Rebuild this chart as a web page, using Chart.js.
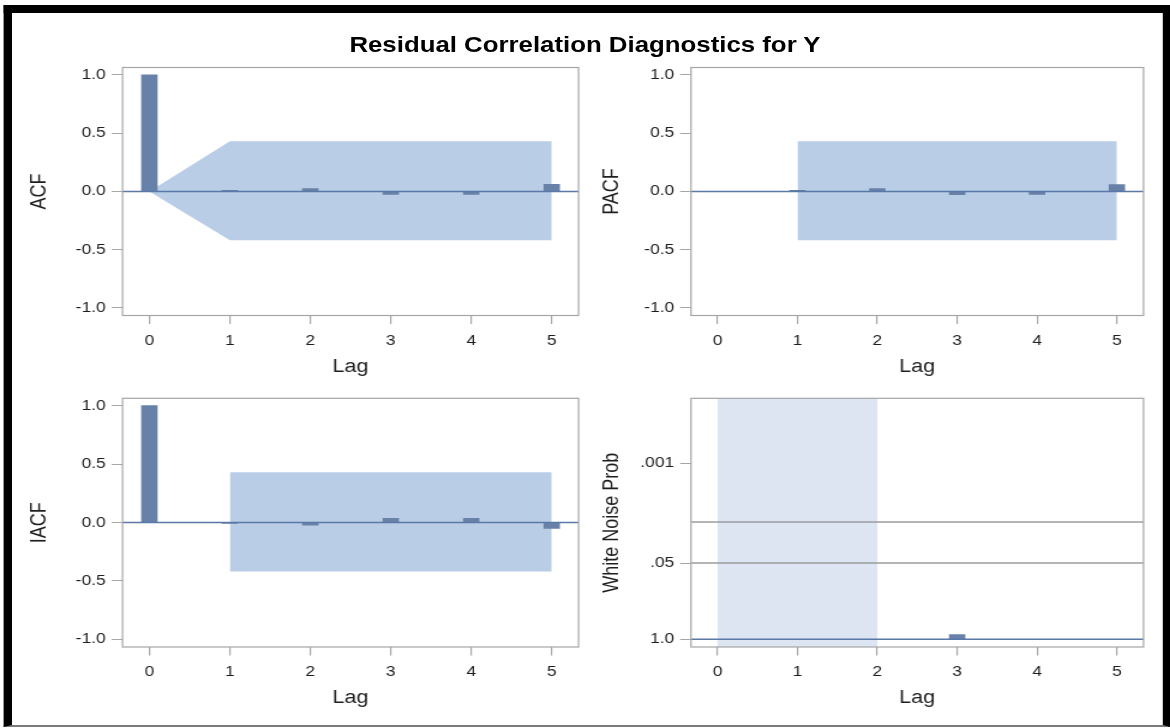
<!DOCTYPE html>
<html>
<head>
<meta charset="utf-8">
<script src="https://cdn.jsdelivr.net/npm/chart.js@4.4.1/dist/chart.umd.min.js"></script>
<style>
html,body{margin:0;padding:0;background:#fff;overflow:hidden;width:1170px;height:728px;}
#stage{position:absolute;left:0;top:0;width:975px;height:728px;transform:scaleX(1.2);transform-origin:0 0;}
#frame{position:absolute;left:3px;top:5px;width:972px;height:722px;box-sizing:border-box;border-top:8px solid #000;border-left:7px solid #000;border-right:6px solid #000;border-bottom:2px solid #7a7a7a;}
#title{position:absolute;left:0;width:975px;top:32.5px;text-align:center;font:bold 21.5px "Liberation Sans",Arial,sans-serif;line-height:24px;color:#000;white-space:nowrap;}
canvas{position:absolute;}
</style>
</head>
<body>
<div id="stage">
  <div id="frame"></div>
  <div id="title">Residual Correlation Diagnostics for Y</div>
  <canvas id="acf"></canvas>
  <canvas id="pacf"></canvas>
  <canvas id="iacf"></canvas>
  <canvas id="wn"></canvas>
</div>
<script>
// ---------------- data ----------------
const lags = [0, 1, 2, 3, 4, 5];
const acfValues  = [1.0, 0.01, 0.025, -0.025, -0.025, 0.06];
const pacfValues = [null, 0.008, 0.025, -0.028, -0.025, 0.058];
const iacfValues = [1.0, -0.008, -0.022, 0.035, 0.035, -0.05];
const whiteNoiseP = [null, null, null, 0.83, 1.0, 1.0];

const acfBandLags  = [0, 1, 5];
const acfBandUpper = [0, 0.43, 0.43];
const acfBandLower = [0, -0.42, -0.42];
const pacfBandLags  = [1, 5];
const pacfBandUpper = [0.43, 0.43];
const pacfBandLower = [-0.42, -0.42];
const iacfBandLags  = [1, 5];
const iacfBandUpper = [0.43, 0.43];
const iacfBandLower = [-0.42, -0.42];
const wnMissingLags = [0, 1, 2];
const wnRefP = [0.05, 0.01];

const lagTicks = [0, 1, 2, 3, 4, 5];
const corrTicks = [-1, -0.5, 0, 0.5, 1];
const corrTickLabels = ['-1.0', '-0.5', '0.0', '0.5', '1.0'];
const wnTickP = [0.001, 0.05, 1.0];
const wnTickLabels = ['.001', '.05', '1.0'];

// ---------------- style ----------------
const FONT = '"Liberation Sans", Arial, sans-serif';
const TICK_SIZE = 14.5;
const AXIS_TITLE_SIZE = 18;
const TEXT = '#1e1e1e';
const FRAME = '#a6a6a6';
const BAR = '#6881a8';
const BAND = '#b9cee6';
const WN_BAND = '#dce5f1';
const ZERO_LINE = '#5a78a8';
const REF_LINE = '#9c9c9c';

const nlog = p => (p === 1 ? 0 : -Math.log10(p));
const pts = (xs, ys) => xs.map((x, i) => ({x: x, y: ys[i]})).filter(d => d.y !== null && d.y !== undefined);

function bandSets(xs, up, lo) {
  return [
    {type: 'line', data: pts(xs, up), fill: '+1', backgroundColor: BAND, borderColor: 'rgba(0,0,0,0)', borderWidth: 0, pointRadius: 0, tension: 0, order: 3},
    {type: 'line', data: pts(xs, lo), fill: false, backgroundColor: BAND, borderColor: 'rgba(0,0,0,0)', borderWidth: 0, pointRadius: 0, tension: 0, order: 3}
  ];
}
function barSet(ys) {
  return {type: 'bar', data: pts(lags, ys), backgroundColor: BAR, borderWidth: 0, barThickness: 13, order: 1};
}

function buildPanel(cfg) {
  const cv = document.getElementById(cfg.id);
  const b = cfg.box, f = cfg.frame;
  cv.width = b.w; cv.height = b.h;
  cv.style.left = b.x + 'px'; cv.style.top = b.y + 'px';
  const titleLH = AXIS_TITLE_SIZE * 1.2;
  const padTop = f.t - b.y;
  const padRight = b.x + b.w - f.r;
  const yW = f.l - b.x;
  const xH = b.y + b.h - f.b;
  const yTitlePad = cfg.yTitleX - b.x - titleLH / 2;
  const xTitlePad = b.y + b.h - cfg.xTitleY - titleLH / 2;

  const decor = {
    id: 'decor_' + cfg.id,
    beforeDatasetsDraw(chart) {
      const {ctx, chartArea: a, scales} = chart;
      if (cfg.shadeLags) {
        const x0 = scales.x.getPixelForValue(Math.min(...cfg.shadeLags));
        const x1 = scales.x.getPixelForValue(Math.max(...cfg.shadeLags));
        ctx.save();
        ctx.fillStyle = WN_BAND;
        ctx.fillRect(x0, a.top, x1 - x0, a.bottom - a.top);
        ctx.restore();
      }
    },
    afterDatasetsDraw(chart) {
      const {ctx, chartArea: a, scales} = chart;
      ctx.save();
      (cfg.grayRefs || []).forEach(v => {
        const yy = scales.y.getPixelForValue(v);
        ctx.strokeStyle = REF_LINE; ctx.lineWidth = 1.4;
        ctx.beginPath(); ctx.moveTo(a.left, yy); ctx.lineTo(a.right, yy); ctx.stroke();
      });
      const y0 = scales.y.getPixelForValue(0);
      ctx.strokeStyle = ZERO_LINE; ctx.lineWidth = 1.5;
      ctx.beginPath(); ctx.moveTo(a.left, y0); ctx.lineTo(a.right, y0); ctx.stroke();
      ctx.strokeStyle = FRAME; ctx.lineWidth = 1.2;
      ctx.strokeRect(a.left, a.top, a.right - a.left, a.bottom - a.top);
      ctx.restore();
    }
  };

  new Chart(cv, {
    type: 'bar',
    data: {datasets: cfg.datasets},
    plugins: [decor],
    options: {
      responsive: false,
      animation: false,
      events: [],
      layout: {padding: {left: 0, top: padTop, right: padRight, bottom: 0}},
      plugins: {legend: {display: false}, tooltip: {enabled: false}},
      scales: {
        x: {
          type: 'linear', min: -1/3, max: 16/3, offset: false,
          afterBuildTicks: s => { s.ticks = lagTicks.map(v => ({value: v})); },
          afterFit: s => { s.height = xH; s.paddingLeft = 0; s.paddingRight = 0; },
          grid: {display: true, offset: false, drawOnChartArea: false, drawTicks: true, tickLength: 8.5, color: FRAME, lineWidth: 1.2},
          border: {display: false},
          ticks: {autoSkip: false, maxRotation: 0, padding: 8, color: TEXT, font: {family: FONT, size: TICK_SIZE},
                  callback: (v) => String(v)},
          title: {display: true, text: 'Lag', color: TEXT, font: {family: FONT, size: AXIS_TITLE_SIZE}, padding: {top: 0, bottom: xTitlePad}}
        },
        y: {
          type: 'linear', min: cfg.yMin, max: cfg.yMax,
          afterBuildTicks: s => { s.ticks = cfg.yTicks.map(v => ({value: v})); },
          afterFit: s => { s.width = yW; s.paddingTop = 0; s.paddingBottom = 0; },
          grid: {display: true, drawOnChartArea: false, drawTicks: true, tickLength: 9, color: FRAME, lineWidth: 1},
          border: {display: false},
          ticks: {autoSkip: false, padding: 5, color: TEXT, font: {family: FONT, size: TICK_SIZE},
                  callback: (v, i) => cfg.yLabels[i]},
          title: {display: true, text: cfg.yTitle, color: TEXT, font: {family: FONT, size: AXIS_TITLE_SIZE}, padding: {top: yTitlePad, bottom: 0}}
        }
      }
    }
  });
}

const topBox = {y: 58, h: 322};
const botBox = {y: 385, h: 335};
const leftFrame = {l: 102.1, r: 482.1};
const rightFrame = {l: 575.8, r: 952.9};

buildPanel({
  id: 'acf', box: {x: 12, y: topBox.y, w: 478, h: topBox.h},
  frame: {l: leftFrame.l, r: leftFrame.r, t: 67.5, b: 315.5},
  yTitle: 'ACF', yTitleX: 33.3, xTitleY: 367,
  yMin: -1.065, yMax: 1.063, yTicks: corrTicks, yLabels: corrTickLabels,
  datasets: [barSet(acfValues)].concat(bandSets(acfBandLags, acfBandUpper, acfBandLower))
});
buildPanel({
  id: 'pacf', box: {x: 490, y: topBox.y, w: 476, h: topBox.h},
  frame: {l: rightFrame.l, r: rightFrame.r, t: 67.5, b: 315.5},
  yTitle: 'PACF', yTitleX: 510.4, xTitleY: 367,
  yMin: -1.065, yMax: 1.063, yTicks: corrTicks, yLabels: corrTickLabels,
  datasets: [barSet(pacfValues)].concat(bandSets(pacfBandLags, pacfBandUpper, pacfBandLower))
});
buildPanel({
  id: 'iacf', box: {x: 12, y: botBox.y, w: 478, h: botBox.h},
  frame: {l: leftFrame.l, r: leftFrame.r, t: 398.3, b: 647},
  yTitle: 'IACF', yTitleX: 33.3, xTitleY: 698,
  yMin: -1.065, yMax: 1.063, yTicks: corrTicks, yLabels: corrTickLabels,
  datasets: [barSet(iacfValues)].concat(bandSets(iacfBandLags, iacfBandUpper, iacfBandLower))
});
buildPanel({
  id: 'wn', box: {x: 490, y: botBox.y, w: 476, h: botBox.h},
  frame: {l: rightFrame.l, r: rightFrame.r, t: 398.3, b: 647},
  yTitle: 'White Noise Prob', yTitleX: 510.4, xTitleY: 698,
  yMin: -0.13, yMax: 4.11, yTicks: wnTickP.map(nlog), yLabels: wnTickLabels,
  shadeLags: wnMissingLags, grayRefs: wnRefP.map(nlog),
  datasets: [barSet(whiteNoiseP.map(p => p === null ? null : nlog(p)))]
});
</script>
</body>
</html>
